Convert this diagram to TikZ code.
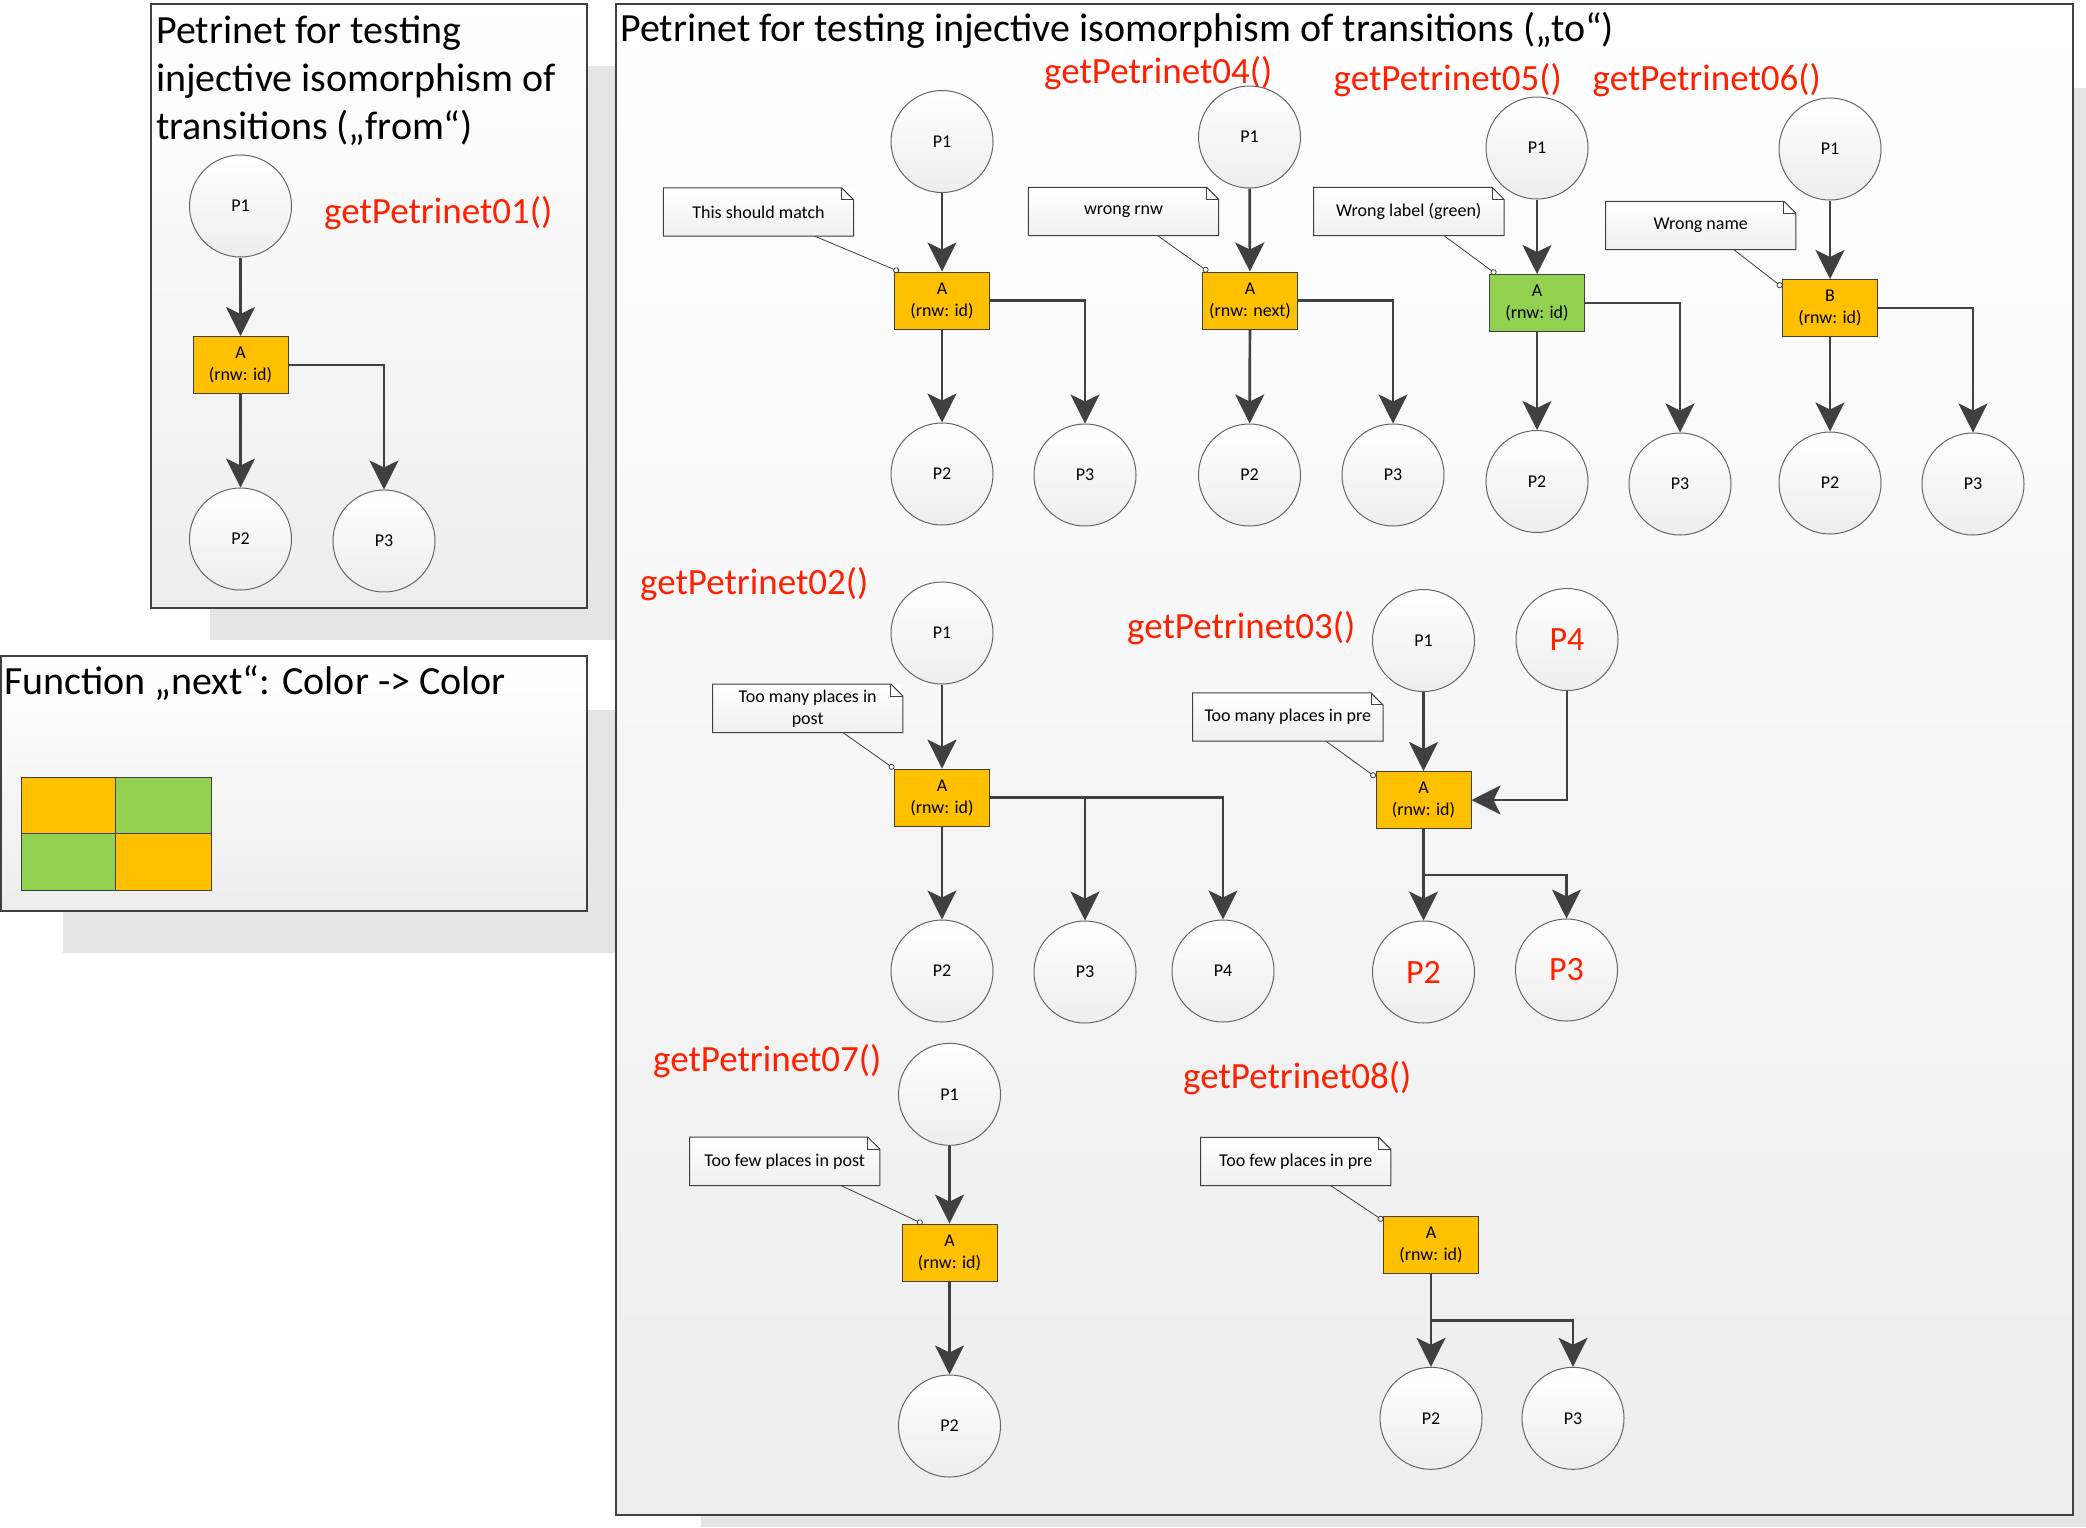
\documentclass[tikz,border=0pt]{standalone}
\usepackage{fontspec}
\setmainfont{Carlito}
\usetikzlibrary{arrows.meta}
\definecolor{ink}{HTML}{404040}
\definecolor{orng}{HTML}{FFC000}
\definecolor{grn}{HTML}{92D050}
\definecolor{fnred}{HTML}{FF2000}
\definecolor{dropgray}{HTML}{E5E5E5}
\tikzset{
  panel/.style={draw=ink,line width=1.5pt,top color=white,bottom color=black!7},
  drop/.style={fill=dropgray,draw=none},
  title/.style={font=\fontsize{40}{48}\selectfont,inner sep=0pt,align=left},
  fname/.style={font=\fontsize{37}{44}\selectfont,text=fnred,inner sep=0pt,anchor=base west},
  place/.style={
    circle,
    minimum size=102pt,
    inner sep=0pt,
    draw=black!60,
    line width=1pt,
    top color=white,
    bottom color=black!7,
    font=\fontsize{18}{22}\selectfont
  },
  redplace/.style={place,text=fnred,font=\fontsize{34}{40}\selectfont},
  trans/.style={
    rectangle,
    minimum width=95pt,
    minimum height=57pt,
    inner sep=0pt,
    fill=orng,
    draw=ink,
    line width=1pt,
    align=center,
    font=\fontsize{18}{22}\selectfont
  },
  note/.style={
    rectangle,
    minimum width=190pt,
    minimum height=48pt,
    inner sep=0pt,
    top color=white,
    bottom color=black!6,
    align=center,
    font=\fontsize{18}{22}\selectfont
  },
  flow/.style={draw=ink,line width=2.7pt,-{Stealth[length=29pt,width=29pt,inset=7pt]}},
  hint/.style={draw=ink,line width=0.8pt,-{Circle[open,length=6pt]}}
}
\newcommand\dogear[1]{
  \fill[white] ([xshift=-12pt]#1.north east) -- (#1.north east) -- ([yshift=-12pt]#1.north east) -- cycle;
  \draw[ink,line width=1pt] (#1.south west) -- (#1.north west) -- ([xshift=-12pt]#1.north east) -- ([yshift=-12pt]#1.north east) -- (#1.south east) -- cycle;
  \draw[ink,line width=1pt] ([xshift=-12pt]#1.north east) |- ([yshift=-12pt]#1.north east);
}

\begin{document}
\begin{tikzpicture}[x=1pt,y=-1pt]
    \useasboundingbox (0,0) rectangle (2086,1527);
    \fill[drop] (210,66) rectangle (700,640);
    \fill[drop] (63,710) rectangle (700,953);
    \fill[drop] (701,88) rectangle (2086,1527);
    \draw[panel] (151,4) rectangle (587,608);
    \draw[panel] (1,656) rectangle (587,911);
    \draw[panel] (616,4) rectangle (2073,1515);

    \node[title,anchor=north west] (from) at (156,16) {Petrinet for testing\\injective isomorphism of\\transitions („from“)};
    \node[title,anchor=base west] (to) at (620,41) {Petrinet for testing injective isomorphism of transitions („to“)};
    \node[title,anchor=base west] (next) at (4,694) {Function „next“: Color -> Color};

    \draw[fill=orng,draw=ink,line width=1pt] (21,777) rectangle (115.5,833);
    \draw[fill=grn,draw=ink,line width=1pt] (115.5,777) rectangle (211,833);
    \draw[fill=grn,draw=ink,line width=1pt] (21,833) rectangle (115.5,890);
    \draw[fill=orng,draw=ink,line width=1pt] (115.5,833) rectangle (211,890);

    \node[fname] (f01) at (324,223) {getPetrinet01()};
    \node[fname] (f04) at (1044,83) {getPetrinet04()};
    \node[fname] (f05) at (1333.5,90) {getPetrinet05()};
    \node[fname] (f06) at (1592.5,90) {getPetrinet06()};
    \node[fname] (f02) at (640,594) {getPetrinet02()};
    \node[fname] (f03) at (1127,638) {getPetrinet03()};
    \node[fname] (f07) at (653,1071) {getPetrinet07()};
    \node[fname] (f08) at (1183,1088) {getPetrinet08()};

    \node[place] (from-p1) at (240.5,206) {P1};
    \node[trans] (from-a) at (240.5,365) {A\\(rnw: id)};
    \node[place] (from-p2) at (240.5,539) {P2};
    \node[place] (from-p3) at (384,541) {P3};
    \draw[flow] (from-p1) -- (from-a);
    \draw[flow] (from-a) -- (from-p2);
    \draw[flow] (from-a.east) -| (from-p3);

    \node[note] (match-n) at (758.5,212) {This should match};
    \dogear{match-n}
    \node[place] (match-p1) at (942,141.5) {P1};
    \node[trans] (match-a) at (942,300.5) {A\\(rnw: id)};
    \node[place] (match-p2) at (942,474) {P2};
    \node[place] (match-p3) at (1085,475) {P3};
    \draw[flow] (match-p1) -- (match-a);
    \draw[flow] (match-a) -- (match-p2);
    \draw[flow] (match-a.east) -| (match-p3);
    \draw[hint] ([xshift=-39pt]match-n.south east) -- ([xshift=5pt]match-a.north west);

    \node[note] (rnw-n) at (1123.5,211.5) {wrong rnw};
    \dogear{rnw-n}
    \node[place] (rnw-p1) at (1249.5,137) {P1};
    \node[trans] (rnw-a) at (1250,300.5) {A\\(rnw: next)};
    \node[place] (rnw-p2) at (1249.5,475) {P2};
    \node[place] (rnw-p3) at (1393,475) {P3};
    \draw[flow] (rnw-p1) -- (rnw-a);
    \draw[flow] (rnw-a) -- (rnw-p2);
    \draw[flow] (rnw-a.east) -| (rnw-p3);
    \draw[hint] ([xshift=-61pt]rnw-n.south east) -- ([xshift=6pt]rnw-a.north west);

    \node[note] (green-n) at (1408.8,211.5) {Wrong label (green)};
    \dogear{green-n}
    \node[place] (green-p1) at (1537,148) {P1};
    \node[trans,fill=grn] (green-a) at (1537,303) {A\\(rnw: id)};
    \node[place] (green-p2) at (1537,481.5) {P2};
    \node[place] (green-p3) at (1680,484) {P3};
    \draw[flow] (green-p1) -- (green-a);
    \draw[flow] (green-a) -- (green-p2);
    \draw[flow] (green-a.east) -| (green-p3);
    \draw[hint] ([xshift=-60pt]green-n.south east) -- ([xshift=7pt]green-a.north west);

    \node[note] (name-n) at (1700.7,225.5) {Wrong name};
    \dogear{name-n}
    \node[place] (name-p1) at (1830,149) {P1};
    \node[trans] (name-a) at (1830,308) {B\\(rnw: id)};
    \node[place] (name-p2) at (1830,483) {P2};
    \node[place] (name-p3) at (1973,484) {P3};
    \draw[flow] (name-p1) -- (name-a);
    \draw[flow] (name-a) -- (name-p2);
    \draw[flow] (name-a.east) -| (name-p3);
    \draw[hint] ([xshift=-62pt]name-n.south east) -- ([yshift=-8pt]name-a.north west);

    \node[note] (post-n) at (807.7,708.3) {Too many places in\\post};
    \dogear{post-n}
    \node[place] (post-p1) at (942,633) {P1};
    \node[trans] (post-a) at (942,797.6) {A\\(rnw: id)};
    \node[place] (post-p2) at (942,971) {P2};
    \node[place] (post-p3) at (1085,972) {P3};
    \node[place] (post-p4) at (1223,971) {P4};
    \draw[flow] (post-p1) -- (post-a);
    \draw[flow] (post-a) -- (post-p2);
    \draw[flow] (post-a.east) -| (post-p3);
    \draw[flow] (post-a.east) -| (post-p4);
    \draw[hint] ([xshift=-60pt]post-n.south east) -- (post-a.north west);

    \node[note] (pre-n) at (1287.8,717) {Too many places in pre};
    \dogear{pre-n}
    \node[place] (pre-p1) at (1423.5,640.5) {P1};
    \node[redplace] (pre-p4) at (1567,639.5) {P4};
    \node[trans] (pre-a) at (1423.5,800) {A\\(rnw: id)};
    \node[redplace] (pre-p2) at (1423.5,972) {P2};
    \node[redplace] (pre-p3) at (1566.5,970) {P3};
    \coordinate (pre-j) at (1423.5,875);
    \draw[flow] (pre-p1) -- (pre-a);
    \draw[flow] (pre-p4) |- (pre-a);
    \draw[flow] (pre-a) -- (pre-p2);
    \draw[flow] (pre-a) -- (pre-j) -| (pre-p3);
    \draw[hint] ([xshift=-57pt]pre-n.south east) -- ([yshift=-6pt]pre-a.north west);

    \node[note] (fpost-n) at (784.7,1161.3) {Too few places in post};
    \dogear{fpost-n}
    \node[place] (fpost-p1) at (949.5,1094.3) {P1};
    \node[trans] (fpost-a) at (949.5,1252.6) {A\\(rnw: id)};
    \node[place] (fpost-p2) at (949.5,1426) {P2};
    \draw[flow] (fpost-p1) -- (fpost-a);
    \draw[flow] (fpost-a) -- (fpost-p2);
    \draw[hint] ([xshift=-39pt]fpost-n.south east) -- ([xshift=21pt]fpost-a.north west);

    \node[note] (fpre-n) at (1295.7,1161.5) {Too few places in pre};
    \dogear{fpre-n}
    \node[trans] (fpre-a) at (1431,1244.5) {A\\(rnw: id)};
    \node[place] (fpre-p2) at (1431,1418.3) {P2};
    \node[place] (fpre-p3) at (1573,1418.3) {P3};
    \coordinate (fpre-j) at (1431,1320.3);
    \draw[flow] (fpre-a) -- (fpre-p2);
    \draw[flow] (fpre-a) -- (fpre-j) -| (fpre-p3);
    \draw[hint] ([xshift=-60pt]fpre-n.south east) -- ([yshift=-5pt]fpre-a.north west);
\end{tikzpicture}
\end{document}
